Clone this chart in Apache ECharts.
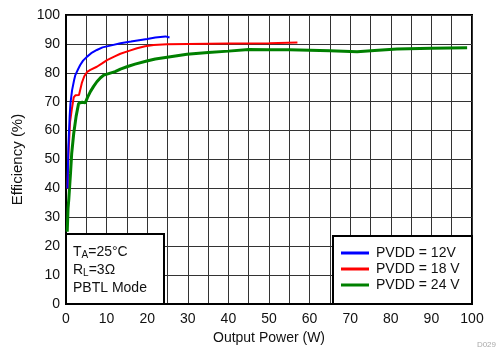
<!DOCTYPE html>
<html>
<head>
<meta charset="utf-8">
<script src="https://cdn.jsdelivr.net/npm/echarts@6/dist/echarts.min.js"></script>
<style>html,body{margin:0;padding:0;background:#fff}#c{width:500px;height:352px}</style>
</head>
<body>
<div id="c"></div>
<script>
const xTicks = [0,10,20,30,40,50,60,70,80,90,100];
const yTicks = [0,10,20,30,40,50,60,70,80,90,100];
const seriesNames = ['PVDD = 12V', 'PVDD = 18 V', 'PVDD = 24 V'];
const pvdd12 = [[0.35,40],[0.6,55],[0.9,65],[1.1,69.5],[1.5,74],[2.0,77.5],[2.3,79.2],[3.0,81.3],[3.5,82.7],[4.2,84.2],[5.2,85.6],[6.2,86.8],[7.6,87.9],[9,88.8],[10.9,89.4],[13.4,90.2],[16,90.8],[18,91.3],[20,91.7],[22,92.2],[24.5,92.6],[25.5,92.2]];
const pvdd18 = [[0.35,40],[0.6,52],[1.0,63],[1.5,68],[1.9,71.5],[2.3,72.2],[3.2,72.3],[3.9,76.5],[4.5,78.8],[5.2,80.3],[6,81],[7.6,82.1],[8.8,83.2],[10.1,84.4],[12,85.7],[13.4,86.6],[15.5,87.6],[17.5,88.5],[19.5,89.2],[21.6,89.6],[24.9,89.9],[30,90],[40,90.1],[50,90.2],[57,90.5]];
const pvdd24 = [[0.3,25],[0.5,33],[0.7,36.5],[1.0,37],[1.1,45],[1.4,52],[1.9,59],[2.5,65],[3.1,69.4],[3.5,70],[4.0,69.8],[4.75,69.6],[5.3,71.5],[6,73.5],[6.8,75.3],[7.6,76.9],[8.5,78.3],[9.3,79.2],[10.9,79.9],[12.1,80.4],[13.4,81.3],[15,82.1],[17,83],[19.9,84.1],[22,84.8],[24.9,85.4],[29.8,86.4],[35,87],[40,87.5],[45,88.1],[50,88],[55,88],[60,87.8],[65,87.6],[71.7,87.3],[76,87.7],[81.5,88.2],[90,88.5],[98.8,88.7]];

const chart = echarts.init(document.getElementById('c'));
const font = 'Liberation Sans, Arial, Helvetica, sans-serif';
const rich = { n: { fontSize: 14, fill: '#111', fontFamily: font }, s: { fontSize: 10, fill: '#111', fontFamily: font, padding: [7,0,0,0] } };
chart.setOption({
  animation: false,
  backgroundColor: '#fff',
  textStyle: { fontFamily: font },
  grid: { left: 66, right: 28, top: 15, bottom: 48, show: true, borderColor: '#000', borderWidth: 2, backgroundColor: 'transparent', containLabel: false },
  xAxis: {
    type: 'value', min: 0, max: 100, interval: 5,
    name: 'Output Power (W)', nameLocation: 'middle', nameGap: 26,
    nameTextStyle: { fontSize: 14, color: '#111', fontFamily: font },
    axisLine: { show: true, lineStyle: { color: '#000', width: 2 } },
    axisTick: { show: false },
    axisLabel: { fontSize: 14, color: '#111', margin: 8, fontFamily: font,
      formatter: v => (xTicks.indexOf(v) >= 0 ? String(v) : '') },
    splitLine: { show: true, lineStyle: { color: '#333', width: 1 } }
  },
  yAxis: {
    type: 'value', min: 0, max: 100, interval: 10,
    name: 'Efficiency (%)', nameLocation: 'middle', nameGap: 41, nameRotate: 90,
    nameTextStyle: { fontSize: 15, color: '#111', fontFamily: font },
    axisLine: { show: true, lineStyle: { color: '#000', width: 2 } },
    axisTick: { show: false },
    axisLabel: { fontSize: 14, color: '#111', margin: 6, fontFamily: font,
      formatter: v => (yTicks.indexOf(v) >= 0 ? String(v) : '') },
    splitLine: { show: true, lineStyle: { color: '#333', width: 1 } }
  },
  legend: {
    show: true, orient: 'vertical', left: 341, top: 246,
    itemWidth: 28, itemHeight: 3, itemGap: 2, icon: 'rect',
    textStyle: { fontSize: 14, color: '#111', fontFamily: font, padding: [0,0,0,2] },
    data: seriesNames, padding: 0
  },
  series: [
    { name: seriesNames[0], type: 'line', data: pvdd12, showSymbol: false, symbol: 'none', lineStyle: { color: '#0000ff', width: 2 }, itemStyle: { color: '#0000ff' }, z: 5 },
    { name: seriesNames[1], type: 'line', data: pvdd18, showSymbol: false, symbol: 'none', lineStyle: { color: '#ff0000', width: 2 }, itemStyle: { color: '#ff0000' }, z: 4 },
    { name: seriesNames[2], type: 'line', data: pvdd24, showSymbol: false, symbol: 'none', lineStyle: { color: '#008000', width: 3 }, itemStyle: { color: '#008000' }, z: 3 }
  ],
  graphic: [
    { type: 'rect', shape: { x: 66, y: 234, width: 98, height: 70 }, style: { fill: '#fff', stroke: '#000', lineWidth: 2 }, z: 10 },
    { type: 'text', left: 73, top: 245, z: 11, style: { text: '{n|T}{s|A}{n|=25°C}', rich: rich } },
    { type: 'text', left: 73, top: 263, z: 11, style: { text: '{n|R}{s|L}{n|=3Ω}', rich: rich } },
    { type: 'text', left: 73, top: 281, z: 11, style: { text: 'PBTL Mode', fontSize: 14, fill: '#111', fontFamily: font } },
    { type: 'rect', shape: { x: 333, y: 236, width: 139, height: 68 }, style: { fill: '#fff', stroke: '#000', lineWidth: 2 }, z: 1 },
    { type: 'text', right: 4, bottom: 3, z: 11, style: { text: 'D029', fontSize: 8, fill: '#aaa', fontFamily: font } }
  ]
});
</script>
</body>
</html>
